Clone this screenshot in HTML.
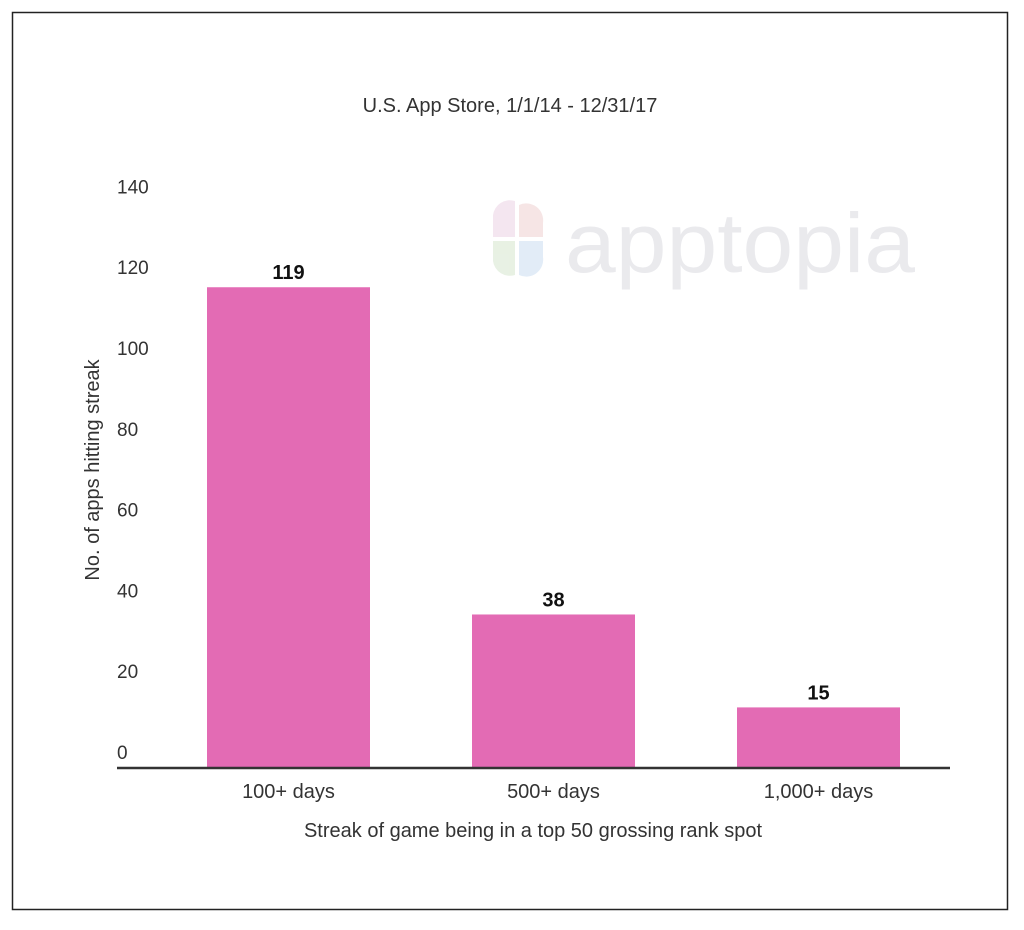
<!DOCTYPE html>
<html><head><meta charset="utf-8"><style>
body{margin:0;background:#fff;}
svg text{font-family:"Liberation Sans",sans-serif;}
</style></head><body>
<svg width="1024" height="925" viewBox="0 0 1024 925">
<rect x="12.5" y="12.5" width="995" height="897" fill="#fff" stroke="#222" stroke-width="1.5"/>
<text x="510" y="112" font-size="20" text-anchor="middle" fill="#333">U.S. App Store, 1/1/14 - 12/31/17</text>
<g opacity="0.9">
<path d="M493,237 L493,215 a17,17 0 0 1 22,-14 L515,237 Z" fill="#f3e4ef"/>
<path d="M519,237 L519,205 a17,17 0 0 1 24,18 L543,237 Z" fill="#f6e3e3"/>
<path d="M493,241 L515,241 L515,275 a17,17 0 0 1 -22,-14 Z" fill="#e6f0e1"/>
<path d="M519,241 L543,241 L543,257 a17,17 0 0 1 -24,18 Z" fill="#dfebf7"/>
<text x="565" y="272" font-size="84" textLength="350" lengthAdjust="spacingAndGlyphs" fill="#e8e8ec">apptopia</text>
</g>
<g id="yaxis"></g>
<g id="bars"></g>
<line x1="117" y1="768" x2="950" y2="768" stroke="#333" stroke-width="2.5"/>
<text transform="translate(99,470) rotate(-90)" font-size="20" text-anchor="middle" fill="#333">No. of apps hitting streak</text>
<text x="533" y="837" font-size="20" text-anchor="middle" fill="#333">Streak of game being in a top 50 grossing rank spot</text>
</svg>
<script>
const categories=["100+ days","500+ days","1,000+ days"];
const values=[119,38,15];
const yTicks=[0,20,40,60,80,100,120,140];
const ns="http://www.w3.org/2000/svg";
function y(v){return 768-v*4.04;}
function x(i){return 207+i*265;}
const bw=163;
const ya=document.getElementById('yaxis');
yTicks.forEach(t=>{
  const tx=document.createElementNS(ns,'text');
  tx.setAttribute('x',117);tx.setAttribute('y',y(t)-9);
  tx.setAttribute('font-size','19');tx.setAttribute('fill','#333');
  tx.textContent=t;
  
  
  ya.appendChild(tx);
});
const bg=document.getElementById('bars');
values.forEach((v,i)=>{
  const r=document.createElementNS(ns,'rect');
  r.setAttribute('x',x(i));r.setAttribute('y',y(v));
  r.setAttribute('width',bw);r.setAttribute('height',768-y(v));
  r.setAttribute('fill','#e36bb4');
  
  
  bg.appendChild(r);
  const l=document.createElementNS(ns,'text');
  l.setAttribute('x',x(i)+bw/2);l.setAttribute('y',y(v)-8);
  l.setAttribute('font-size','20');l.setAttribute('font-weight','bold');
  l.setAttribute('text-anchor','middle');l.setAttribute('fill','#111');
  l.textContent=v;
  
  
  bg.appendChild(l);
  const c=document.createElementNS(ns,'text');
  c.setAttribute('x',x(i)+bw/2);c.setAttribute('y',798);
  c.setAttribute('font-size','20');c.setAttribute('text-anchor','middle');c.setAttribute('fill','#333');
  c.textContent=categories[i];
  
  
  bg.appendChild(c);
});
</script>
</body></html>
